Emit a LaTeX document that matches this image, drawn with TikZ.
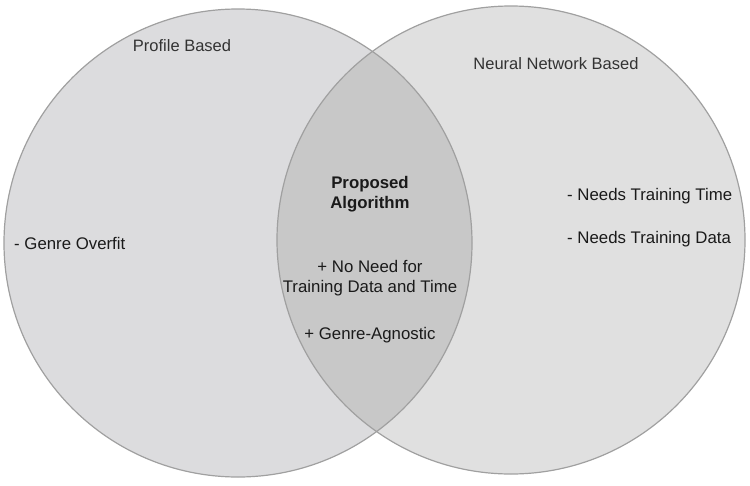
\documentclass[tikz,border=0pt]{standalone}
\usepackage{fontspec}
\setmainfont{Liberation Sans}
\definecolor{leftfill}{HTML}{DCDCDE}
\definecolor{rightfill}{HTML}{E0E0E0}
\definecolor{midfill}{HTML}{C8C8C8}
\definecolor{edge}{HTML}{A0A0A0}
\definecolor{txt}{HTML}{1A1A1A}
\definecolor{lbltxt}{HTML}{333333}
\tikzset{
  setcircle/.style={circle, draw=edge, line width=1.2pt, minimum size=468pt, inner sep=0pt},
  lbl/.style={font=\fontsize{16.5}{20}\selectfont, text=lbltxt, inner sep=0pt},
  item/.style={font=\fontsize{16.8}{19.5}\selectfont, text=txt, inner sep=0pt, align=center},
}
\begin{document}
\begin{tikzpicture}[x=1pt,y=-1pt]
\useasboundingbox (0,0) rectangle (750,485);
\fill[leftfill] (238,243) circle (234);
\fill[rightfill] (511,240) circle (234);
\begin{scope}
\clip (238,243) circle (234);
\fill[midfill] (511,240) circle (234);
\end{scope}
\node[setcircle] (L) at (238,243) {};
\node[setcircle] (R) at (511,240) {};
\node[lbl] (pb) at (182,46) {Profile Based};
\node[lbl] (nnb) at (556,64) {Neural Network Based};
\node[item, font=\fontsize{16.8}{20}\selectfont\bfseries] (pa) at (370,194) {Proposed\\Algorithm};
\node[item] (nn) at (370,278) {+ No Need for\\Training Data and Time};
\node[item] (ga) at (370,335) {+ Genre-Agnostic};
\node[item, anchor=west] (go) at (14,243) {- Genre Overfit};
\node[item, anchor=west] (nt) at (567,196) {- Needs Training Time};
\node[item, anchor=west] (nd) at (567,239) {- Needs Training Data};
\end{tikzpicture}
\end{document}
